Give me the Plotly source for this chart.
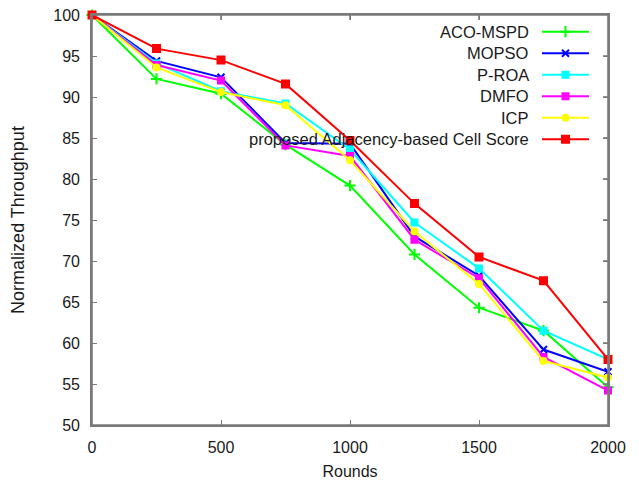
import plotly.graph_objects as go

rounds = [0, 250, 500, 750, 1000, 1250, 1500, 1750, 2000]
aco_mspd = [100, 92.2, 90.4, 84.2, 79.2, 70.8, 64.3, 61.5, 54.6]
mopso = [100, 94.4, 92.4, 84.4, 84.3, 73.0, 68.2, 59.2, 56.5]
p_roa = [100, 94.1, 90.7, 89.2, 83.6, 74.7, 69.1, 61.5, 58.0]
dmfo = [100, 93.9, 92.0, 84.1, 82.8, 72.6, 67.9, 58.3, 54.2]
icp = [100, 93.6, 90.6, 89.0, 82.3, 73.6, 67.2, 57.8, 55.8]
proposed = [100, 95.9, 94.5, 91.6, 84.7, 77.0, 70.5, 67.6, 58.0]

x_ticks = [0, 500, 1000, 1500, 2000]
y_ticks = [50, 55, 60, 65, 70, 75, 80, 85, 90, 95, 100]

series_names = ["ACO-MSPD", "MOPSO", "P-ROA", "DMFO", "ICP",
                "proposed Adjacency-based Cell Score"]
series_values = [aco_mspd, mopso, p_roa, dmfo, icp, proposed]
colors = ["#00ff00", "#0000ff", "#00ffff", "#ff00ff", "#ffff00", "#ff0000"]
symbols = ["cross-thin-open", "x-thin-open", "square", "square", "circle", "square"]
sizes = [8, 7, 6, 6, 6, 7]

# layout geometry (window pixels; the page body adds an 8px margin)
BODY = 8
PL, PT, PR, PB = 92, 15, 608, 425
FIG_W, FIG_H = 639 - 2 * BODY, 488 - 2 * BODY
X0, X1, Y0, Y1 = 0, 2000, 50, 100
AX_COL = "#7a7a7a"
AX_W = 1.6
TICK_PX = 5


def px_to_x(px):
    return X0 + (px - PL) / (PR - PL) * (X1 - X0)


def py_to_y(py):
    return Y1 - (py - PT) / (PB - PT) * (Y1 - Y0)


FONT = "Liberation Sans"
TXT = "#1a1a1a"

fig = go.Figure()
for name, vals, c, s, sz in zip(series_names, series_values, colors, symbols, sizes):
    fig.add_trace(go.Scatter(
        x=rounds, y=vals, mode="lines+markers", name=name,
        line=dict(color=c, width=2),
        marker=dict(symbol=s, size=sz, color=c, line=dict(color=c, width=2)),
        showlegend=False, cliponaxis=False))

# gnuplot-style key: right-aligned text followed by a line sample
row_px = [31.7, 53.2, 74.7, 96.2, 117.7, 139.2]
for name, c, s, sz, ry in zip(series_names, colors, symbols, sizes, row_px):
    yy = py_to_y(ry)
    fig.add_trace(go.Scatter(
        x=[px_to_x(542), px_to_x(589)], y=[yy, yy], mode="lines",
        line=dict(color=c, width=2), showlegend=False, hoverinfo="skip"))
    fig.add_trace(go.Scatter(
        x=[px_to_x(565.5)], y=[yy], mode="markers",
        marker=dict(symbol=s, size=sz, color=c, line=dict(color=c, width=2)),
        showlegend=False, hoverinfo="skip"))
    fig.add_annotation(x=px_to_x(531), y=yy, xref="x", yref="y", text=name,
                       showarrow=False, xanchor="right", yanchor="middle",
                       font=dict(family=FONT, size=16.5, color=TXT))

# frame box and mirrored inside ticks (top / right)
fig.add_shape(type="rect", xref="paper", yref="paper", x0=0, x1=1, y0=0, y1=1,
              line=dict(color=AX_COL, width=AX_W), layer="above")
tick_fx = TICK_PX / (PR - PL)
tick_fy = TICK_PX / (PB - PT)
for xv in x_ticks[1:-1]:
    fig.add_shape(type="line", xref="x", yref="paper", x0=xv, x1=xv,
                  y0=1, y1=1 - tick_fy, line=dict(color=AX_COL, width=AX_W),
                  layer="above")
for yv in y_ticks[1:-1]:
    fig.add_shape(type="line", xref="paper", yref="y", x0=1, x1=1 - tick_fx,
                  y0=yv, y1=yv, line=dict(color=AX_COL, width=AX_W), layer="above")

axis_common = dict(showgrid=False, zeroline=False, showline=True, linecolor=AX_COL,
                   linewidth=AX_W, mirror="ticks", ticks="inside", ticklen=TICK_PX,
                   tickcolor=AX_COL, ticklabelstandoff=7, ticklabeloverflow="allow",
                   tickfont=dict(family=FONT, size=16, color=TXT))

fig.update_layout(
    width=FIG_W, height=FIG_H,
    margin=dict(l=PL - BODY, r=FIG_W - (PR - BODY), t=PT - BODY, b=FIG_H - (PB - BODY),
                autoexpand=False),
    plot_bgcolor="rgba(0,0,0,0)", paper_bgcolor="white",
    font=dict(family=FONT, size=16, color=TXT),
    xaxis=dict(range=[X0, X1], tickvals=x_ticks,
               title=dict(text="Rounds", standoff=14,
                          font=dict(family=FONT, size=16, color=TXT)),
               **axis_common),
    yaxis=dict(range=[Y0, Y1], tickvals=y_ticks,
               title=dict(text="Normalized Throughput", standoff=32,
                          font=dict(family=FONT, size=18, color=TXT)),
               **axis_common),
)

fig.write_html("out.html")
